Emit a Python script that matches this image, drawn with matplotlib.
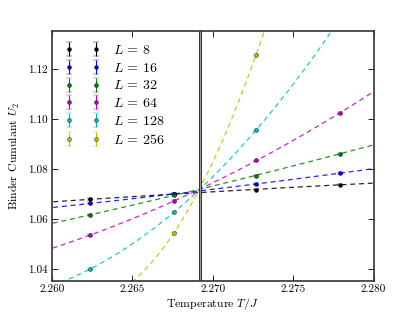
import numpy as np
import matplotlib
matplotlib.use('Agg')
import matplotlib.pyplot as plt

plt.rcParams['font.family'] = 'cmr10'
plt.rcParams['mathtext.fontset'] = 'cm'
plt.rcParams['axes.formatter.use_mathtext'] = True
plt.rcParams['xtick.direction'] = 'in'
plt.rcParams['ytick.direction'] = 'in'
plt.rcParams['xtick.top'] = True
plt.rcParams['ytick.right'] = True

# temperatures of the simulated points
temps = np.array([2.2624, 2.2676, 2.2727, 2.2779])
sizes = [8, 16, 32, 64, 128, 256]
colors = ['k', 'b', 'g', 'm', 'c', 'y']

# Binder cumulant per lattice size (points outside the view are estimates)
u_8 = [1.0679, 1.0702, 1.0718, 1.0738]
u_16 = [1.0663, 1.0701, 1.0741, 1.0784]
u_32 = [1.0617, 1.0697, 1.0774, 1.0862]
u_64 = [1.0537, 1.0672, 1.0835, 1.1025]
u_128 = [1.0401, 1.0628, 1.0957, 1.1401]
u_256 = [1.0267, 1.0546, 1.1259, 1.2434]
u_err = [0.0004, 0.0003, 0.0003, 0.0003]

t_crit = 2.2692
binder = [u_8, u_16, u_32, u_64, u_128, u_256]

fig = plt.figure(figsize=(4.15, 3.12), dpi=100)
ax = fig.add_axes([0.125, 0.1, 0.775, 0.8])

tt = np.linspace(2.259, 2.281, 300)
for L, u, c in zip(sizes, binder, colors):
    coef = np.polyfit(temps, u, 2)
    ax.plot(tt, np.polyval(coef, tt), '--', color=c, lw=0.9, dashes=(4, 3), alpha=0.85)
    ax.errorbar(temps, u, yerr=u_err, fmt='o', color=c, ms=2.8, mec='k', mew=0.3,
                capsize=2.5, elinewidth=0.8, label=r'$L\,=\,%d$' % L)

ax.axvline(t_crit, color='0.2', lw=2.2)
ax.axvline(t_crit, color='0.6', lw=0.8)

ax.set_xlim(2.260, 2.280)
ax.set_ylim(1.0353, 1.1353)
ax.set_xticks([2.260, 2.265, 2.270, 2.275, 2.280])
ax.set_xticklabels(['2.260', '2.265', '2.270', '2.275', '2.280'])
ax.set_yticks([1.04, 1.06, 1.08, 1.10, 1.12])
ax.set_yticklabels(['1.04', '1.06', '1.08', '1.10', '1.12'])
ax.tick_params(labelsize=8, length=4, width=0.6, pad=3)
for s in ax.spines.values():
    s.set_linewidth(1.2)
    s.set_color('0.2')

ax.set_xlabel(r'Temperature $T/J$', fontsize=8.5, labelpad=1)
ax.set_ylabel(r'Binder Cumulant $U_2$', fontsize=8.5, labelpad=4)

ax.legend(loc='upper left', numpoints=2, frameon=False, fontsize=10,
          handlelength=2.6, handletextpad=0.9, labelspacing=0.35,
          borderaxespad=0.5)

fig.savefig('out.png', dpi=100)
